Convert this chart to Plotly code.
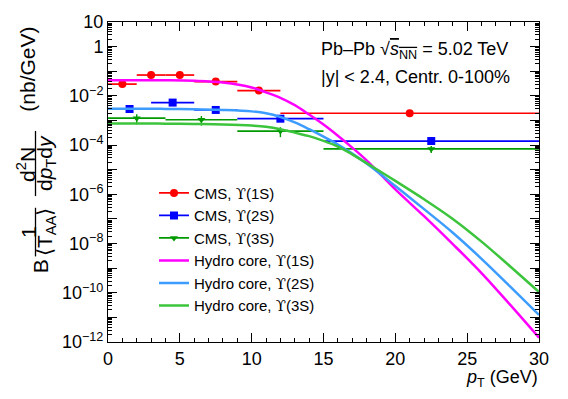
import plotly.graph_objects as go

# ---------------- data ----------------
cms_1s_pt = [1, 3, 5, 7.5, 10.5, 21]
cms_1s_lo = [1, 1, 1, 1.5, 1.5, 9]
cms_1s_hi = [1, 1, 1, 1.5, 1.5, 9]
cms_1s_y = [0.030, 0.070, 0.070, 0.038, 0.0164, 0.00196]
cms_1s_ey = [0.008, 0.008, 0.007, 0.004, 0.002, 0.0002]

cms_2s_pt = [1.5, 4.5, 7.5, 12, 22.5]
cms_2s_lo = [1.5, 1.5, 1.5, 3, 7.5]
cms_2s_hi = [1.5, 1.5, 1.5, 3, 7.5]
cms_2s_y = [0.00292, 0.00532, 0.00267, 0.00118, 1.46e-4]
cms_2s_ey = [0.0005, 0.0008, 0.0004, 0.00015, 2e-5]

cms_3s_pt = [2, 6.5, 12, 22.5]
cms_3s_lo = [2, 2.5, 3, 7.5]
cms_3s_hi = [2, 2.5, 3, 7.5]
cms_3s_y = [0.00124, 0.00107, 3.7e-4, 7.0e-5]
cms_3s_ey = [0.00055, 0.00045, 1.6e-4, 2.2e-5]

hydro_pt = [0, 2, 4, 6, 8, 10, 11, 12, 13, 14, 15, 16, 17, 18, 20, 22, 24, 26, 28, 30]
hydro_1s = [4.3e-2, 4.3e-2, 4.27e-2, 4.07e-2, 3.47e-2, 2.19e-2, 1.38e-2, 8.3e-3, 4.17e-3,
            1.74e-3, 6.8e-4, 2.4e-4, 7.9e-5, 2.4e-5, 1.58e-6, 1.29e-7, 9.5e-9, 6.3e-10,
            3.2e-11, 1.5e-12]
hydro_2s = [3.0e-3, 3.0e-3, 2.95e-3, 2.88e-3, 2.69e-3, 2.34e-3, 1.95e-3, 1.38e-3, 8.3e-4,
            4.4e-4, 2.19e-4, 1.05e-4, 4.5e-5, 1.78e-5, 2.19e-6, 2.5e-7, 2.75e-8, 2.4e-9,
            1.78e-10, 1.26e-11]
hydro_3s = [7.6e-4, 7.6e-4, 7.4e-4, 7.2e-4, 6.9e-4, 6.2e-4, 5.5e-4, 4.4e-4, 3.2e-4,
            2.3e-4, 1.48e-4, 8.7e-5, 4.2e-5, 1.86e-5, 3.5e-6, 6.3e-7, 1.0e-7, 1.2e-8,
            1.17e-9, 1.07e-10]

y_tick_vals = [10, 1, 1e-1, 1e-2, 1e-3, 1e-4, 1e-5, 1e-6, 1e-7, 1e-8, 1e-9, 1e-10, 1e-11, 1e-12]
y_tick_text = ["10", "1", "", "10<sup>\u22122</sup>", "", "10<sup>\u22124</sup>", "",
               "10<sup>\u22126</sup>", "", "10<sup>\u22128</sup>", "", "10<sup>\u221210</sup>",
               "", "10<sup>\u221212</sup>"]

UPS = "<span style='font-family:DejaVu Serif'>\u03d2</span>"

# ---------------- styles ----------------
FONT = "Liberation Sans, Arial, sans-serif"
C_RED, C_BLUE, C_GREEN = "#ff0000", "#0000ff", "#009a00"
C_MAG, C_LBLUE, C_LGREEN = "#ff00ff", "#3c9cff", "#3cc43c"

L, R, T, B = 108, 29, 13, 57
W, H = 568, 399
PW, PH = W - L - R, H - T - B


def px(x):
    return (x - L) / PW


def py(y):
    return (H - B - y) / PH


fig = go.Figure()


def cms(x, y, lo, hi, ey, color, symbol, size):
    fig.add_trace(go.Scatter(
        x=x, y=y, mode="markers", showlegend=False,
        marker=dict(color=color, symbol=symbol, size=size, line=dict(width=0)),
        error_x=dict(type="data", symmetric=False, array=hi, arrayminus=lo,
                     color=color, thickness=1.7, width=0),
        error_y=dict(type="data", array=ey, color=color, thickness=1.4, width=0),
    ))


cms(cms_1s_pt, cms_1s_y, cms_1s_lo, cms_1s_hi, cms_1s_ey, C_RED, "circle", 8)
cms(cms_2s_pt, cms_2s_y, cms_2s_lo, cms_2s_hi, cms_2s_ey, C_BLUE, "square", 8)
cms(cms_3s_pt, cms_3s_y, cms_3s_lo, cms_3s_hi, cms_3s_ey, C_GREEN, "triangle-down", 7)

for y, c in [(hydro_1s, C_MAG), (hydro_2s, C_LBLUE), (hydro_3s, C_LGREEN)]:
    fig.add_trace(go.Scatter(x=hydro_pt, y=y, mode="lines", showlegend=False,
                             line=dict(color=c, width=2.5, shape="spline")))

# legend entries
for name, c, sym, sz in [("CMS, " + UPS + "(1S)", C_RED, "circle", 8),
                         ("CMS, " + UPS + "(2S)", C_BLUE, "square", 8),
                         ("CMS, " + UPS + "(3S)", C_GREEN, "triangle-down", 7)]:
    fig.add_trace(go.Scatter(x=[None], y=[None], mode="lines+markers", name=name,
                             line=dict(color=c, width=1.6),
                             marker=dict(color=c, symbol=sym, size=sz)))
for name, c in [("Hydro core, " + UPS + "(1S)", C_MAG), ("Hydro core, " + UPS + "(2S)", C_LBLUE),
                ("Hydro core, " + UPS + "(3S)", C_LGREEN)]:
    fig.add_trace(go.Scatter(x=[None], y=[None], mode="lines", name=name,
                             line=dict(color=c, width=2.5)))

minor_y = [m * 10 ** e for e in range(-12, 1) for m in range(2, 10)]

fig.update_layout(
    width=W, height=H,
    margin=dict(l=L, r=R, t=T, b=B),
    paper_bgcolor="white", plot_bgcolor="white",
    font=dict(family=FONT, size=18, color="black"),
    showlegend=True,
    legend=dict(x=px(154), y=py(172), xanchor="left", yanchor="top",
                bgcolor="rgba(0,0,0,0)", tracegroupgap=0,
                font=dict(size=15)),
    xaxis=dict(range=[0, 30], dtick=5, tick0=0, ticks="inside", ticklen=9,
               tickwidth=1, tickcolor="black", showline=True, linecolor="black",
               linewidth=1, mirror="allticks", showgrid=False, zeroline=False,
               tickfont=dict(size=18),
               minor=dict(dtick=1, ticks="inside", ticklen=4, tickcolor="black",
                          showgrid=False)),
    yaxis=dict(type="log", range=[-12, 1], tickmode="array", tickvals=y_tick_vals,
               ticktext=y_tick_text, ticks="inside", ticklen=9, tickwidth=1,
               tickcolor="black", showline=True, linecolor="black", linewidth=1,
               mirror="allticks", showgrid=False, zeroline=False,
               tickfont=dict(size=18),
               minor=dict(tickmode="array", tickvals=minor_y, ticks="inside",
                          ticklen=4, tickcolor="black", showgrid=False)),
)

ann = []
ann.append(dict(text="Pb\u2013Pb \u221a<span style='text-decoration:overline'><i>s</i><sub>NN</sub></span> = 5.02 TeV",
                x=px(319), y=py(42), xanchor="left", yanchor="middle", size=18))
ann.append(dict(text="|y| < 2.4, Centr. 0-100%", x=px(319), y=py(70),
                xanchor="left", yanchor="middle", size=18))
ann.append(dict(text="<i>p</i><sub>T</sub> (GeV)", x=px(540), y=py(380),
                xanchor="right", yanchor="middle", size=18))
# y-axis title built as rotated fractions
rot = [("B", 40, 264), ("1", 28, 229), ("\u27e8T<sub>AA</sub>\u27e9", 46, 229),
       ("d<sup>2</sup>N", 26, 160), ("d<i>p</i><sub>T</sub>d<i>y</i>", 46, 158),
       ("(nb/GeV)", 28, 62)]
for t, xx, yy in rot:
    ann.append(dict(text=t, x=px(xx), y=py(yy), xanchor="center", yanchor="middle",
                    textangle=-90, size=21))
for a in ann:
    s = a.pop("size")
    a.update(xref="paper", yref="paper", showarrow=False,
             font=dict(family=FONT, size=s, color="black"))
fig.update_layout(annotations=ann)

fig.add_shape(type="line", xref="paper", yref="paper", x0=px(35.5), x1=px(35.5),
              y0=py(204), y1=py(254), line=dict(color="black", width=1.3))
fig.add_shape(type="line", xref="paper", yref="paper", x0=px(35.5), x1=px(35.5),
              y0=py(125), y1=py(192), line=dict(color="black", width=1.3))

fig.write_html("out.html")
